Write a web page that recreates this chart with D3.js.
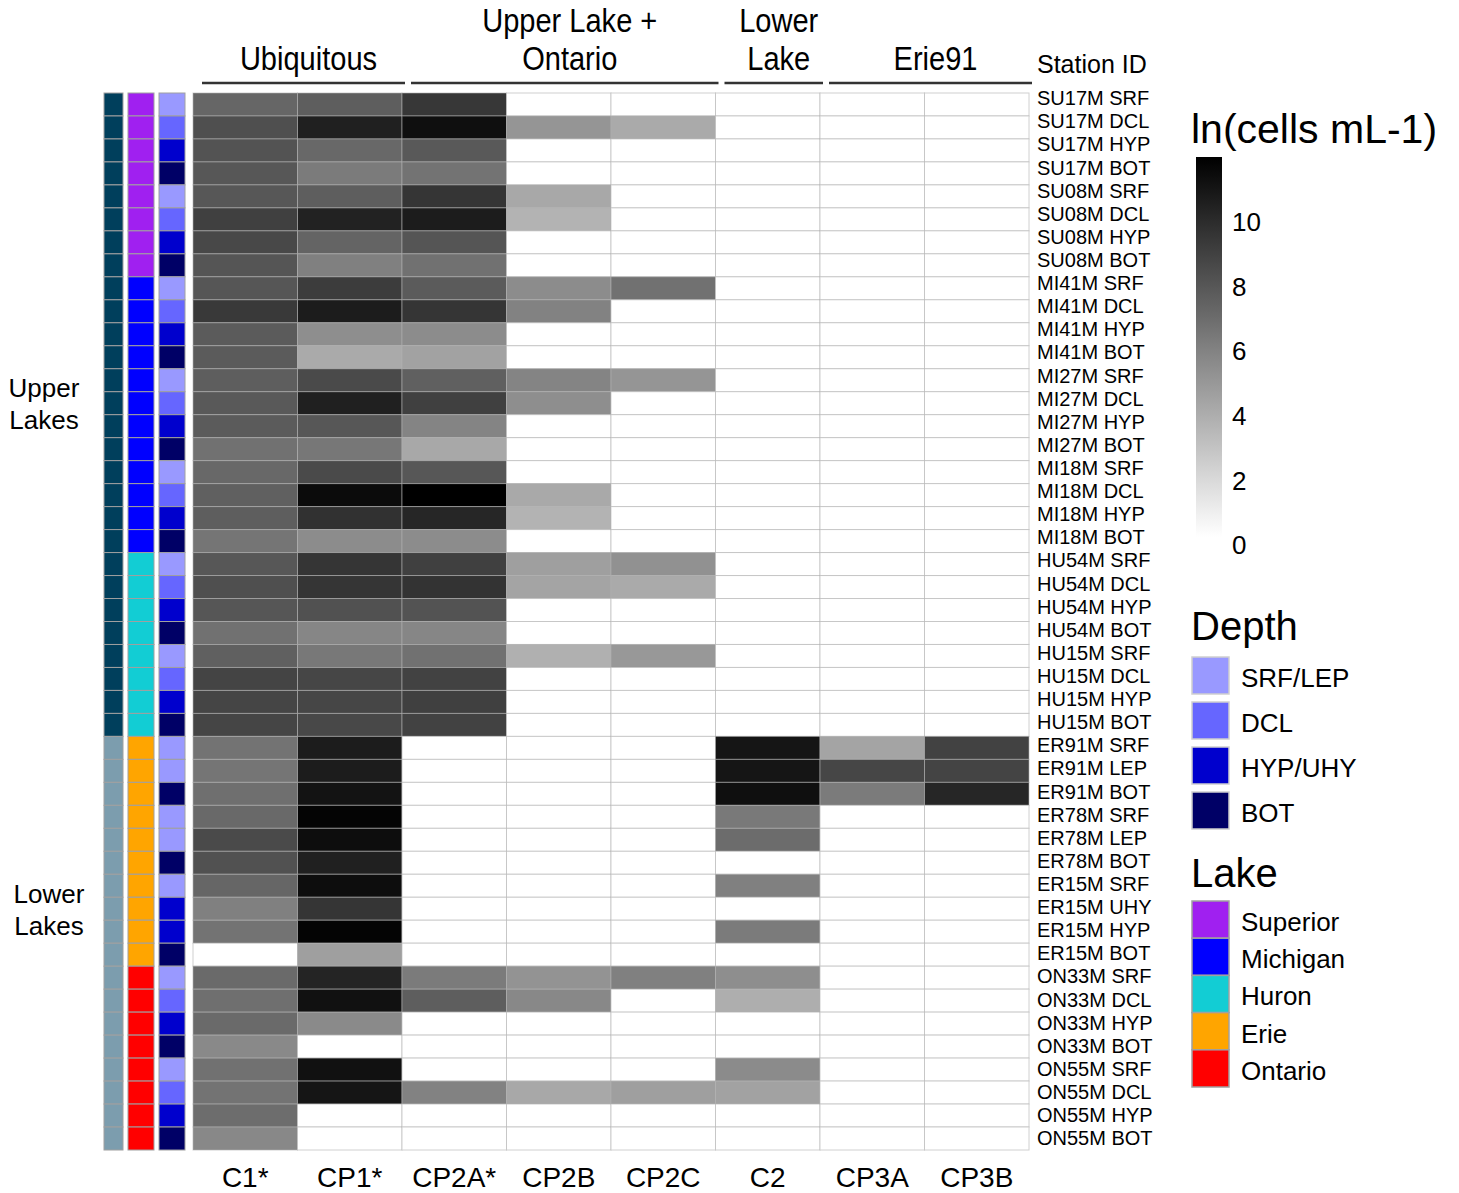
<!DOCTYPE html>
<html>
<head>
<meta charset="utf-8">
<script src="https://cdn.jsdelivr.net/npm/d3@7"></script>
<style>
  body { margin: 0; background: #fff; }
  text { font-family: "Liberation Sans", Arial, sans-serif; fill: #000; }
</style>
</head>
<body>
<div class="main"></div>
<script>
const svgWidth = 1459, svgHeight = 1193;

// rows of the heatmap
const stations = [
  "SU17M SRF","SU17M DCL","SU17M HYP","SU17M BOT",
  "SU08M SRF","SU08M DCL","SU08M HYP","SU08M BOT",
  "MI41M SRF","MI41M DCL","MI41M HYP","MI41M BOT",
  "MI27M SRF","MI27M DCL","MI27M HYP","MI27M BOT",
  "MI18M SRF","MI18M DCL","MI18M HYP","MI18M BOT",
  "HU54M SRF","HU54M DCL","HU54M HYP","HU54M BOT",
  "HU15M SRF","HU15M DCL","HU15M HYP","HU15M BOT",
  "ER91M SRF","ER91M LEP","ER91M BOT",
  "ER78M SRF","ER78M LEP","ER78M BOT",
  "ER15M SRF","ER15M UHY","ER15M HYP","ER15M BOT",
  "ON33M SRF","ON33M DCL","ON33M HYP","ON33M BOT",
  "ON55M SRF","ON55M DCL","ON55M HYP","ON55M BOT"
];
const lakeOf = stations.map(s => ({SU: "Superior", MI: "Michigan", HU: "Huron", ER: "Erie", ON: "Ontario"})[s.slice(0, 2)]);
const depthOf = stations.map(s => {
  let d = s.split(" ")[1];
  return d === "SRF" || d === "LEP" ? "SRF/LEP" : d === "HYP" || d === "UHY" ? "HYP/UHY" : d;
});
const regionOf = lakeOf.map(l => (l === "Erie" || l === "Ontario") ? "Lower" : "Upper");

const columns = ["C1*", "CP1*", "CP2A*", "CP2B", "CP2C", "C2", "CP3A", "CP3B"];
const _ = null;
// ln(cells mL-1), null = not detected
const c1 = [7.2,8.3,8.1,7.9, 7.9,9.0,8.6,8.0, 7.95,9.3,7.7,7.7, 7.6,7.8,7.7,6.7, 7.1,7.5,7.6,6.5,
            7.9,8.3,7.95,6.7, 7.5,8.8,8.75,8.75, 6.6,6.5,6.8, 7.05,8.5,8.2, 7.2,6.0,6.6,_,
            7.0,6.8,7.0,5.55, 6.7,6.6,6.85,5.6];
const cp1 = [7.6,10.5,7.1,6.2, 7.6,10.4,7.3,6.0, 9.2,10.7,5.3,4.0, 8.5,10.5,7.9,6.4, 8.5,11.5,9.7,5.4,
             9.5,9.5,8.2,5.7, 6.35,8.7,8.7,8.6, 10.7,10.7,11.1, 11.8,11.4,10.5, 11.4,9.5,11.8,4.5,
             10.3,11.2,5.5,_, 11.2,11.0,_,_];
const cp2a = [9.4,11.3,7.8,6.6, 9.5,10.7,8.0,6.7, 7.7,9.5,5.4,4.4, 7.5,9.0,5.8,4.1, 7.9,12.0,10.2,5.4,
              9.0,9.6,8.1,5.7, 6.7,8.9,9.0,8.9, _,_,_, _,_,_, _,_,_,_,
              6.2,7.6,_,_, _,5.9,_,_];
const cp2b = [_,5.0,_,_, 4.1,3.6,_,_, 5.4,5.9,_,_, 5.8,5.3,_,_, _,4.05,3.6,_,
              4.5,4.3,_,_, 3.7,_,_,_, _,_,_, _,_,_, _,_,_,_,
              5.1,5.6,_,_, _,4.1,_,_];
const cp2c = [_,4.0,_,_, _,_,_,_, 6.7,_,_,_, 5.0,_,_,_, _,_,_,_,
              5.2,4.0,_,_, 4.85,_,_,_, _,_,_, _,_,_, _,_,_,_,
              6.0,_,_,_, _,4.5,_,_];
const c2 = [_,_,_,_, _,_,_,_, _,_,_,_, _,_,_,_, _,_,_,_,
            _,_,_,_, _,_,_,_, 11.0,11.0,11.3, 6.3,6.9,_, 6.0,_,6.2,_,
            5.3,3.8,_,_, 5.45,4.4,_,_];
const cp3a = [_,_,_,_, _,_,_,_, _,_,_,_, _,_,_,_, _,_,_,_,
              _,_,_,_, _,_,_,_, 4.3,8.7,6.2, _,_,_, _,_,_,_,
              _,_,_,_, _,_,_,_];
const cp3b = [_,_,_,_, _,_,_,_, _,_,_,_, _,_,_,_, _,_,_,_,
              _,_,_,_, _,_,_,_, 8.9,8.8,10.2, _,_,_, _,_,_,_,
              _,_,_,_, _,_,_,_];
const series = [c1, cp1, cp2a, cp2b, cp2c, c2, cp3a, cp3b];

const groups = [
  {lines: ["Ubiquitous"], cols: ["C1*", "CP1*"]},
  {lines: ["Upper Lake +", "Ontario"], cols: ["CP2A*", "CP2B", "CP2C"]},
  {lines: ["Lower", "Lake"], cols: ["C2"]},
  {lines: ["Erie91"], cols: ["CP3A", "CP3B"]}
];

const depthLevels = ["SRF/LEP", "DCL", "HYP/UHY", "BOT"];
const depthColors = ["#9999ff", "#6666ff", "#0000cd", "#000066"];
const lakeLevels = ["Superior", "Michigan", "Huron", "Erie", "Ontario"];
const lakeColors = ["#a020f0", "#0000ff", "#12cdd4", "#ffa500", "#ff0000"];
const regionLevels = ["Upper", "Lower"];
const regionColors = ["#003f5c", "#7c9dae"];
const cbTicks = [0, 2, 4, 6, 8, 10];

let cells = [];
series.forEach((vals, j) => vals.forEach((v, i) => cells.push({row: stations[i], col: columns[j], value: v})));

let svg = d3.select("body>.main").append("svg")
    .attr("width", svgWidth)
    .attr("height", svgHeight);

let x = d3.scaleBand().domain(columns).range([193, 1029]),
    y = d3.scaleBand().domain(stations).range([93, 1150]),
    yLabel = d3.scalePoint().domain(stations).range([98, 1138]),
    grey = d3.scaleLinear().domain([0, 12]).range(["#ffffff", "#000000"]),
    depthColor = d3.scaleOrdinal(depthLevels, depthColors),
    lakeColor = d3.scaleOrdinal(lakeLevels, lakeColors),
    regionColor = d3.scaleOrdinal(regionLevels, regionColors);

// heatmap
svg.append("g").attr("class", "cells")
  .selectAll("rect")
  .data(cells)
  .enter().append("rect")
    .attr("x", d => x(d.col))
    .attr("y", d => y(d.row))
    .attr("width", x.bandwidth())
    .attr("height", y.bandwidth())
    .style("fill", d => d.value == null ? "#fff" : grey(d.value))
    .style("stroke", "#b0b0b0")
    .style("stroke-opacity", 0.6)
    .style("stroke-width", 1);

// annotation columns
const annot = [
  {x0: 104, w: 19, key: regionOf, color: regionColor},
  {x0: 128, w: 26, key: lakeOf, color: lakeColor},
  {x0: 159, w: 26, key: depthOf, color: depthColor}
];
annot.forEach(a => {
  svg.append("g").selectAll("rect")
    .data(stations)
    .enter().append("rect")
      .attr("x", a.x0)
      .attr("y", d => y(d))
      .attr("width", a.w)
      .attr("height", y.bandwidth())
      .style("fill", (d, i) => a.color(a.key[i]))
      .style("stroke", "#a0a0a0")
      .style("stroke-width", 1);
});

// region labels
[["Upper", "Lakes", "MI27M DCL", 44], ["Lower", "Lakes", "ER15M UHY", 49]].forEach(r => {
  let cy = y(r[2]) + y.bandwidth() / 2;
  let t = svg.append("text")
    .attr("text-anchor", "middle")
    .style("font-size", "26px");
  t.append("tspan").attr("x", r[3]).attr("y", cy - 6).text(r[0]);
  t.append("tspan").attr("x", r[3]).attr("y", cy + 26).text(r[1]);
});

// station labels
svg.append("g")
  .selectAll("text")
  .data(stations)
  .enter().append("text")
    .attr("x", 1037)
    .attr("y", d => yLabel(d))
    .attr("dy", "0.36em")
    .style("font-size", "20px")
    .text(d => d);

svg.append("text")
  .attr("x", 1037)
  .attr("y", 73)
  .style("font-size", "25px")
  .text("Station ID");

// column labels
svg.append("g")
  .selectAll("text")
  .data(columns)
  .enter().append("text")
    .attr("x", d => x(d) + x.bandwidth() / 2)
    .attr("y", 1187)
    .attr("text-anchor", "middle")
    .style("font-size", "28px")
    .text(d => d);

// group headers (narrowed to mimic a condensed face)
groups.forEach(g => {
  let x0 = x(g.cols[0]), x1 = x(g.cols[g.cols.length - 1]) + x.bandwidth();
  svg.append("line")
    .attr("x1", x0 + 9).attr("x2", x1 + 3)
    .attr("y1", 83).attr("y2", 83)
    .style("stroke", "#333")
    .style("stroke-width", 2.6);
  g.lines.forEach((l, i) => {
    svg.append("text")
      .attr("transform", "translate(" + ((x0 + x1) / 2 + 11) + "," + (70 - (g.lines.length - 1 - i) * 38) + ") scale(0.88,1)")
      .attr("text-anchor", "middle")
      .style("font-size", "33px")
      .text(l);
  });
});

// colour bar legend
const cbX = 1196, cbW = 26;
let cbY = d3.scaleLinear().domain([0, 12]).range([545, 157]);
svg.append("text")
  .attr("x", 1191).attr("y", 143)
  .style("font-size", "41px")
  .text("ln(cells mL-1)");

let grad = svg.append("defs").append("linearGradient")
  .attr("id", "cb").attr("x1", 0).attr("y1", 1).attr("x2", 0).attr("y2", 0);
d3.range(0, 13).forEach(v => {
  grad.append("stop").attr("offset", v / 12).attr("stop-color", grey(v));
});
svg.append("rect")
  .attr("x", cbX).attr("y", cbY(12))
  .attr("width", cbW).attr("height", cbY(0.25) - cbY(12))
  .style("fill", "url(#cb)");
svg.append("g")
  .selectAll("text")
  .data(cbTicks)
  .enter().append("text")
    .attr("x", 1232)
    .attr("y", d => cbY(d))
    .attr("dy", "0.36em")
    .style("font-size", "26px")
    .text(d => d);

// categorical legends
function catLegend(title, levels, colorScale, titleY, top, step, gap, border) {
  svg.append("text")
    .attr("x", 1191).attr("y", titleY)
    .style("font-size", "40px")
    .text(title);
  let item = svg.append("g").selectAll("g")
    .data(levels)
    .enter().append("g")
      .attr("transform", (d, i) => "translate(1192," + (top + i * step) + ")");
  item.append("rect")
    .attr("width", 37).attr("height", step - gap)
    .style("fill", colorScale)
    .style("stroke", border)
    .style("stroke-width", 1.5);
  item.append("text")
    .attr("x", 49)
    .attr("y", (step - gap) / 2 + 2)
    .attr("dy", "0.36em")
    .style("font-size", "26px")
    .text(d => d);
}
catLegend("Depth", depthLevels, depthColor, 640, 657, 45, 8, "#cfcfcf");
catLegend("Lake", lakeLevels, lakeColor, 887, 901, 37.2, 0, "#a0a0a0");
</script>
</body>
</html>
